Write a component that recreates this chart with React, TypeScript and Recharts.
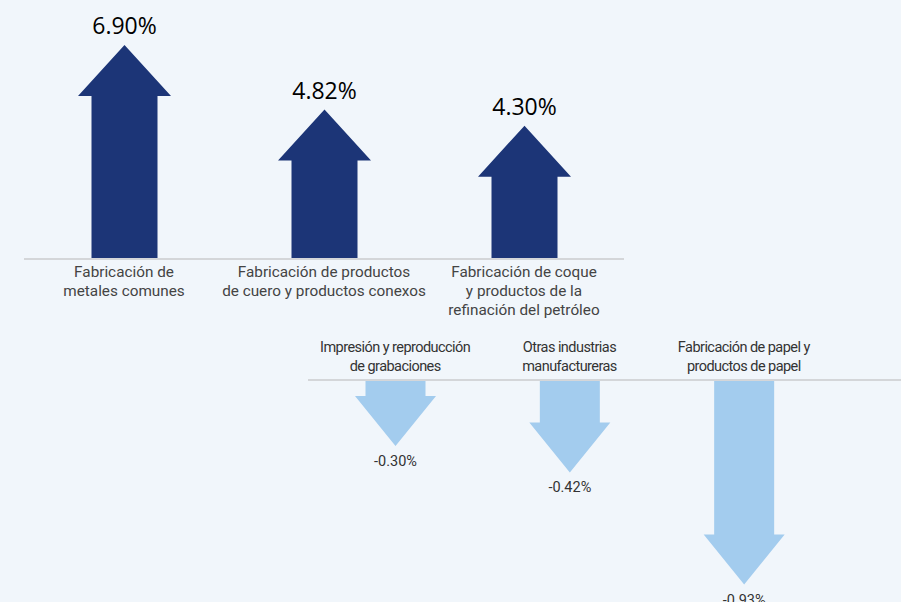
import { Bar, BarChart, XAxis, YAxis } from 'recharts';

const risingCategories = [
  'Fabricación de\nmetales comunes',
  'Fabricación de productos\nde cuero y productos conexos',
  'Fabricación de coque\ny productos de la\nrefinación del petróleo',
];
const risingValues = [6.9, 4.82, 4.3];

const fallingCategories = [
  'Impresión y reproducción\nde grabaciones',
  'Otras industrias\nmanufactureras',
  'Fabricación de papel y\nproductos de papel',
];
const fallingValues = [-0.3, -0.42, -0.93];

const risingData = risingCategories.map((name, i) => ({ name, value: risingValues[i] }));
const fallingData = fallingCategories.map((name, i) => ({ name, value: fallingValues[i] }));

const navy = '#1c3577';
const lightBlue = '#a3ccee';
const axisGray = '#d4d6d9';

function arrowPoints(x: number, width: number, top: number, bottom: number, shaft: number, head: number, up: boolean) {
  const inset = (width - shaft) / 2;
  const cx = x + width / 2;
  if (up) {
    const hb = top + head;
    return [
      [cx, top], [x + width, hb], [x + width - inset, hb], [x + width - inset, bottom],
      [x + inset, bottom], [x + inset, hb], [x, hb],
    ].map((p) => p.join(',')).join(' ');
  }
  const hb = bottom - head;
  return [
    [cx, bottom], [x + width, hb], [x + width - inset, hb], [x + width - inset, top],
    [x + inset, top], [x + inset, hb], [x, hb],
  ].map((p) => p.join(',')).join(' ');
}

const fmt = (v: number) => `${v.toFixed(2)}%`;

function UpArrow(props: any) {
  const { x, y, width, height, payload } = props;
  const top = Math.min(y, y + height);
  const bottom = Math.max(y, y + height);
  return (
    <g>
      <polygon points={arrowPoints(x, width, top, bottom, 66, 51, true)} fill={navy} />
      <text x={x + width / 2} y={top - 11} textAnchor="middle" fontSize={23} fill="#000" fontFamily="'Open Sans', sans-serif">
        {fmt(payload.value)}
      </text>
    </g>
  );
}

function DownArrow(props: any) {
  const { x, y, width, height, payload } = props;
  const top = Math.min(y, y + height);
  const bottom = Math.max(y, y + height);
  return (
    <g>
      <polygon points={arrowPoints(x, width, top, bottom, 60, 50, false)} fill={lightBlue} />
      <text x={x + width / 2} y={bottom + 20} textAnchor="middle" fontSize={14.5} fill="#333" fontFamily="Roboto, sans-serif">
        {fmt(payload.value)}
      </text>
    </g>
  );
}

function BelowTick({ x, y, payload }: any) {
  const lines = String(payload.value).split('\n');
  return (
    <text x={x} y={y} textAnchor="middle" fontSize={15.3} fill="#444" fontFamily="Roboto, sans-serif">
      {lines.map((line, i) => (
        <tspan key={i} x={x} dy={i === 0 ? 10 : 19}>{line}</tspan>
      ))}
    </text>
  );
}

function AboveTick({ x, y, payload }: any) {
  const lines = String(payload.value).split('\n');
  const first = y - 1 - (lines.length - 1) * 19;
  return (
    <text x={x} y={first} textAnchor="middle" fontSize={14.5} letterSpacing={-0.55} fill="#333" fontFamily="Roboto, sans-serif">
      {lines.map((line, i) => (
        <tspan key={i} x={x} dy={i === 0 ? 0 : 19}>{line}</tspan>
      ))}
    </text>
  );
}

export default function App() {
  return (
    <div style={{ position: 'absolute', top: 0, left: 0, width: 901, height: 602, background: '#f1f6fb', overflow: 'hidden' }}>
      <div style={{ position: 'absolute', top: 0, left: 0 }}>
        <BarChart width={650} height={319} data={risingData} margin={{ top: 11, right: 26, bottom: 0, left: 24 }}>
          <YAxis hide domain={[0, 8]} />
          <XAxis
            dataKey="name"
            height={60}
            tickLine={false}
            axisLine={{ stroke: axisGray, strokeWidth: 2 }}
            tick={<BelowTick />}
            interval={0}
          />
          <Bar dataKey="value" barSize={93} shape={<UpArrow />} isAnimationActive={false} />
        </BarChart>
      </div>
      <div style={{ position: 'absolute', top: 330, left: 0 }}>
        <BarChart width={901} height={272} data={fallingData} margin={{ top: 0, right: 0, bottom: 2, left: 308 }}>
          <YAxis hide domain={[-1, 0]} />
          <XAxis
            dataKey="name"
            orientation="top"
            height={50}
            tickLine={false}
            axisLine={{ stroke: axisGray, strokeWidth: 2 }}
            tick={<AboveTick />}
            interval={0}
            padding={{ left: 0, right: 70 }}
          />
          <Bar dataKey="value" barSize={81} shape={<DownArrow />} isAnimationActive={false} />
        </BarChart>
      </div>
    </div>
  );
}
